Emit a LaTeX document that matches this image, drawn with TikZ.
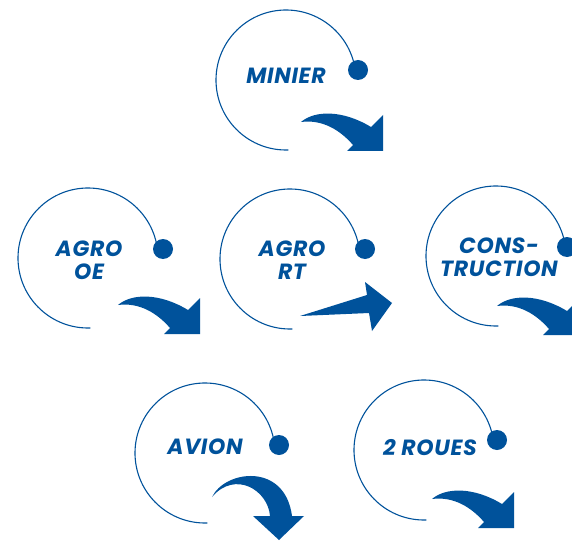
\documentclass[tikz,border=0pt]{standalone}
\usepackage{fontspec}
\newfontfamily\labfont{Poppins}[LetterSpace=3]
\definecolor{dblue}{RGB}{0,82,155}
\tikzset{
  ring/.style={draw=dblue, line width=1.1pt},
  dotmark/.style={circle, fill=dblue, minimum size=20pt, inner sep=0pt},
  lab/.style={text=dblue, font=\labfont\bfseries\itshape\fontsize{22}{23}\selectfont, align=center, inner sep=0pt},
  arrowfill/.style={fill=dblue},
  swoosh/.pic={\fill[arrowfill] (-82,-29) .. controls (-68,-41) and (-40,-41) .. (-12,-24) -- (0,-36) -- (0,0) -- (-36,0) -- (-30,-6) .. controls (-42,-20) and (-60,-32) .. (-82,-29) -- cycle;}
}
\begin{document}
\begin{tikzpicture}[x=1pt,y=-1pt]
\useasboundingbox (0,0) rectangle (572,540);
\clip (0,0) rectangle (572,540);
% MINIER
\coordinate (cM) at (286,80);
\draw[ring] (cM) ++(88:70) arc[start angle=88, end angle=350, radius=70];
\node[dotmark] (dM) at (358,70) {};
\node[lab] (tM) at (286,76) {MINIER};
\pic (aM) at (383,151) {swoosh};
% AGRO OE
\coordinate (cO) at (88,258);
\draw[ring] (cO) ++(88:70) arc[start angle=88, end angle=350, radius=70];
\node[dotmark] (dO) at (163,249) {};
\node[lab] (tO) at (89,260) {AGRO\\OE};
\pic (aO) at (200,334) {swoosh};
% AGRO RT
\coordinate (cR) at (290,259);
\draw[ring] (cR) ++(88:70) arc[start angle=88, end angle=350, radius=70];
\node[dotmark] (dR) at (365,249) {};
\node[lab] (tR) at (292,260) {AGRO\\RT};
\fill[arrowfill] (300,316) -- (367,295) -- (365,282) -- (392,303) -- (372,331) -- (369,313) -- cycle;
% CONSTRUCTION
\coordinate (cC) at (496,256);
\draw[ring] (cC) ++(88:70) arc[start angle=88, end angle=350, radius=70];
\node[dotmark] (dC) at (567,247) {};
\node[lab] (tC) at (499,257) {CONS-\\TRUCTION};
\pic (aC) at (579,335) {swoosh};
% AVION
\coordinate (cA) at (205,453);
\draw[ring] (cA) ++(88:70) arc[start angle=88, end angle=350, radius=70];
\node[dotmark] (dA) at (279,445) {};
\node[lab] (tA) at (205,447) {AVION};
\fill[arrowfill] (212,497) .. controls (225,470) and (285,462) .. (292,516) -- (304,516) -- (279,540) -- (253,516) -- (270,516) .. controls (268,490) and (235,470) .. (212,497) -- cycle;
% 2 ROUES
\coordinate (cD) at (424,450);
\draw[ring] (cD) ++(88:70) arc[start angle=88, end angle=350, radius=70];
\node[dotmark] (dD) at (497,440) {};
\node[lab] (tD) at (430,448) {2 ROUES};
\pic (aD) at (514,528) {swoosh};
\end{tikzpicture}
\end{document}
